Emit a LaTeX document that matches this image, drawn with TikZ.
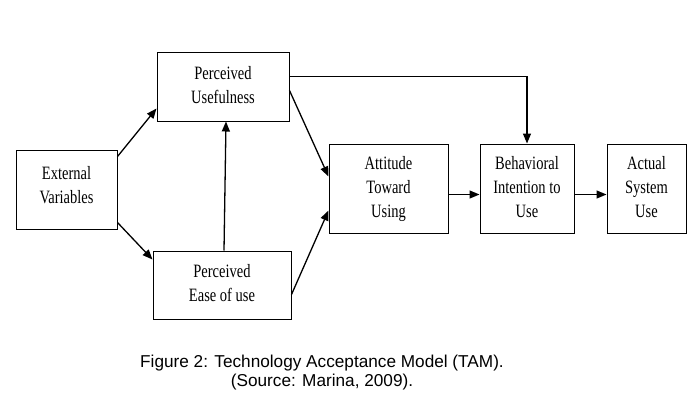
\documentclass[tikz,border=0pt]{standalone}
\usepackage{fontspec}
\setmainfont{Liberation Serif}
\newfontfamily\capfont{Liberation Sans}
\usetikzlibrary{arrows.meta}
% box text is drawn a little taller than wide, as in the scanned figure
\newcommand{\tall}[1]{\scalebox{1}[1.3]{\begin{tabular}{@{}c@{}}#1\end{tabular}}}

\begin{document}
\begin{tikzpicture}[x=1pt, y=-1pt,
  box/.style={draw, line width=1pt, align=center, inner sep=0pt,
    font=\fontsize{14.5}{18.5}\selectfont},
  arr/.style={line width=1.3pt, -{Triangle[length=10pt,width=8pt]}}]
\useasboundingbox (0,0) rectangle (693,405);
\node[box, minimum width=101pt, minimum height=79pt] (ext) at (66.5,189.5) {\tall{External\\Variables\\[4pt]}};
\node[box, minimum width=132pt, minimum height=69pt] (pu) at (223,86.5) {\tall{Perceived\\Usefulness}};
\node[box, minimum width=138pt, minimum height=68pt] (pe) at (222,285) {\tall{Perceived\\Ease of use}};
\node[box, minimum width=119pt, minimum height=89pt] (att) at (388.5,188.5) {\tall{Attitude\\Toward\\Using}};
\node[box, minimum width=94pt, minimum height=89pt] (beh) at (527,188.5) {\tall{Behavioral\\Intention to\\Use}};
\node[box, minimum width=79pt, minimum height=89pt] (act) at (646.5,188.5) {\tall{Actual\\System\\Use}};
\node[font=\capfont\fontsize{17.2}{19}\selectfont, align=center] (cap) at (322,373)
  {Figure 2: Technology Acceptance Model (TAM).\\(Source: Marina, 2009).};
\draw[arr] ([yshift=-7pt]ext.north east) -- ([yshift=13pt]pu.south west);
\draw[arr] ([yshift=7pt]ext.south east) -- ([yshift=-9pt]pe.north west);
\draw[arr] ([xshift=2pt]pe.north) -- ([xshift=3pt]pu.south);
\draw[arr] ([yshift=31pt]pu.south east) -- ([yshift=-33pt]att.north west);
\draw[arr] ([yshift=-44pt]pe.north east) -- ([yshift=23pt]att.south west);
\draw[arr] ([yshift=-25pt]pu.north east) -| (beh.north);
\draw[arr] ([yshift=-6pt]att.east) -- ([yshift=-6pt]beh.west);
\draw[arr] ([yshift=-6pt]beh.east) -- ([yshift=-6pt]act.west);
\end{tikzpicture}
\end{document}
